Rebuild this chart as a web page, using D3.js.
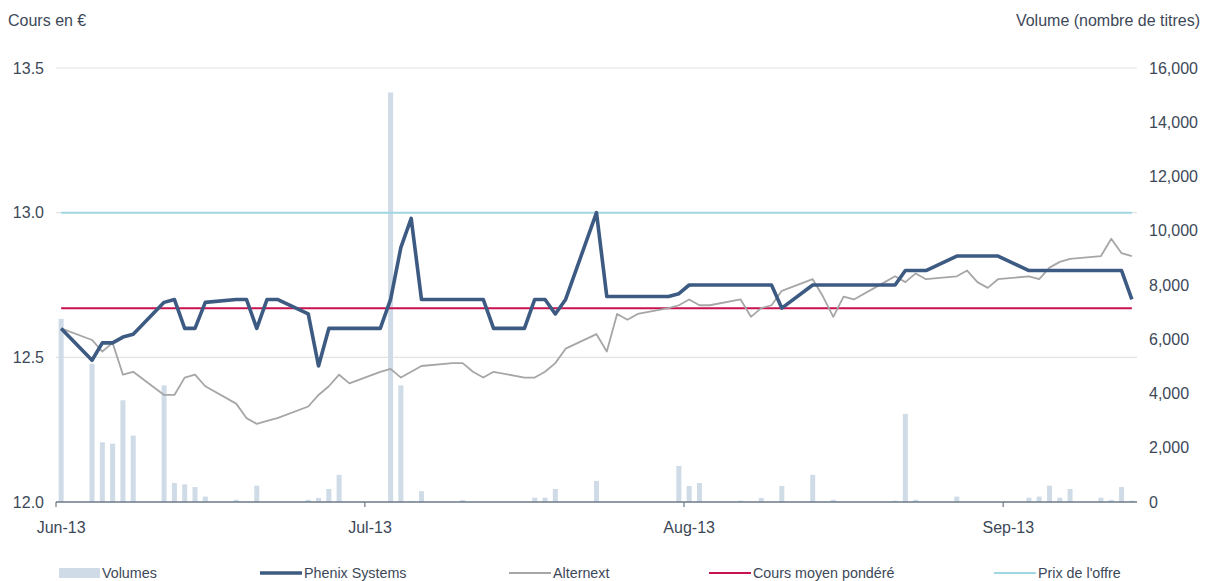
<!DOCTYPE html>
<html>
<head>
<meta charset="utf-8">
<script src="https://cdn.jsdelivr.net/npm/d3@7"></script>
<style>
  body { margin: 0; background: #fff; }
  text { font-family: "Liberation Sans", Arial, sans-serif; fill: #3c4858; }
</style>
</head>
<body>
<svg width="1208" height="581"></svg>
<script>
// trading days, 2013 (mm-dd)
var days = [
  "05-31",
  "06-03","06-04","06-05","06-06","06-07","06-10","06-11","06-12","06-13","06-14",
  "06-17","06-18","06-19","06-20","06-21","06-24","06-25","06-26","06-27","06-28",
  "07-01","07-02","07-03","07-04","07-05","07-08","07-09","07-10","07-11","07-12",
  "07-15","07-16","07-17","07-18","07-19","07-22","07-23","07-24","07-25","07-26",
  "07-29","07-30","07-31","08-01","08-02","08-05","08-06","08-07","08-08","08-09",
  "08-12","08-13","08-14","08-15","08-16","08-19","08-20","08-21","08-22","08-23",
  "08-26","08-27","08-28","08-29","08-30","09-02","09-03","09-04","09-05","09-06",
  "09-09","09-10","09-11","09-12"
];
var phenix = [
  12.60,
  12.49,12.55,12.55,12.57,12.58,12.69,12.70,12.60,12.60,12.69,
  12.70,12.70,12.60,12.70,12.70,12.65,12.47,12.60,12.60,12.60,
  12.60,12.70,12.88,12.98,12.70,12.70,12.70,12.70,12.70,12.60,
  12.60,12.70,12.70,12.65,12.70,13.00,12.71,12.71,12.71,12.71,
  12.71,12.72,12.75,12.75,12.75,12.75,12.75,12.75,12.75,12.67,
  12.75,12.75,12.75,12.75,12.75,12.75,12.75,12.80,12.80,12.80,
  12.85,12.85,12.85,12.85,12.85,12.80,12.80,12.80,12.80,12.80,
  12.80,12.80,12.80,12.70
];
var alternext = [
  12.60,
  12.56,12.52,12.55,12.44,12.45,12.37,12.37,12.43,12.44,12.40,
  12.34,12.29,12.27,12.28,12.29,12.33,12.37,12.40,12.44,12.41,
  12.45,12.46,12.43,12.45,12.47,12.48,12.48,12.45,12.43,12.45,
  12.43,12.43,12.45,12.48,12.53,12.58,12.52,12.65,12.63,12.65,
  12.67,12.68,12.70,12.68,12.68,12.70,12.64,12.67,12.68,12.73,
  12.77,12.71,12.64,12.71,12.70,12.76,12.78,12.76,12.79,12.77,
  12.78,12.80,12.76,12.74,12.77,12.78,12.77,12.81,12.83,12.84,
  12.85,12.91,12.86,12.85
];
var volumes = [
  6750,
  5100,2200,2150,3750,2450,4300,700,650,550,200,
  80,0,600,0,0,80,150,480,1000,0,
  0,15100,4300,30,400,0,70,0,0,0,
  0,160,160,480,0,780,0,0,0,0,
  0,1330,590,700,0,50,0,150,0,590,
  1000,0,80,0,0,0,50,3250,80,0,
  200,0,0,0,0,160,200,600,160,480,
  160,80,550,50
];
var avgPrice = 12.67;
var offerPrice = 13.0;
var priceTicks = [12.0, 12.5, 13.0, 13.5];
var volumeTicks = [0, 2000, 4000, 6000, 8000, 10000, 12000, 14000, 16000];
var monthTickDays = ["05-31", "06-30", "07-31", "08-31"];
var monthLabels = ["Jun-13", "Jul-13", "Aug-13", "Sep-13"];
var legendNames = ["Volumes", "Phenix Systems", "Alternext", "Cours moyen pondéré", "Prix de l'offre"];

var parse = function(s){ return d3.timeParse("%Y-%m-%d")("2013-" + s); };
var halfDay = 12 * 3600 * 1000;
var dateList = days.map(parse);

var svg = d3.select("svg");
var plotL = 56, plotR = 1137, plotT = 68, plotB = 502;

var x = d3.scaleTime()
  .domain([new Date(+dateList[0] - halfDay), new Date(+dateList[dateList.length - 1] + halfDay)])
  .range([plotL, plotR]);
var yP = d3.scaleLinear().domain([12, 13.5]).range([plotB, plotT]);
var yV = d3.scaleLinear().domain([0, 16000]).range([plotB, plotT]);

// gridlines
svg.append("g").selectAll("line")
  .data(priceTicks.slice(1))
  .enter().append("line")
  .attr("x1", plotL).attr("x2", plotR)
  .attr("y1", function(d){ return yP(d); })
  .attr("y2", function(d){ return yP(d); })
  .style("stroke", "#e3e3e3").style("stroke-width", 1.2);

// volume bars
svg.append("g").selectAll("rect")
  .data(volumes)
  .enter().append("rect")
  .attr("x", function(d, i){ return x(dateList[i]) - 2.5; })
  .attr("width", 5)
  .attr("y", function(d){ return yV(d); })
  .attr("height", function(d){ return plotB - yV(d); })
  .style("fill", "#cfdbe6");

// price lines
var priceLine = d3.line()
  .x(function(d, i){ return x(dateList[i]); })
  .y(function(d){ return yP(d); });

svg.append("path")
  .datum(dateList.map(function(){ return offerPrice; }))
  .attr("d", priceLine)
  .style("fill", "none").style("stroke", "#9fd8e2").style("stroke-width", 2);

svg.append("path")
  .datum(dateList.map(function(){ return avgPrice; }))
  .attr("d", priceLine)
  .style("fill", "none").style("stroke", "#c8124f").style("stroke-width", 2);

svg.append("path")
  .datum(alternext)
  .attr("d", priceLine)
  .style("fill", "none").style("stroke", "#a6a6a6").style("stroke-width", 1.8)
  .style("stroke-linejoin", "round");

svg.append("path")
  .datum(phenix)
  .attr("d", priceLine)
  .style("fill", "none").style("stroke", "#3d5b82").style("stroke-width", 3.6)
  .style("stroke-linejoin", "round");

// x axis
var tickDates = monthTickDays.map(function(s){ return new Date(+parse(s) - halfDay); });
var xAxis = svg.append("g");
xAxis.append("line")
  .attr("x1", plotL).attr("x2", plotR).attr("y1", plotB).attr("y2", plotB)
  .style("stroke", "#6b7886").style("stroke-width", 1.5);
xAxis.selectAll(".tk")
  .data(tickDates)
  .enter().append("line")
  .attr("x1", function(d){ return x(d); }).attr("x2", function(d){ return x(d); })
  .attr("y1", plotB).attr("y2", plotB + 5)
  .style("stroke", "#6b7886").style("stroke-width", 1.2);
xAxis.selectAll("text")
  .data(tickDates)
  .enter().append("text")
  .attr("x", function(d){ return x(new Date(+d + halfDay)); })
  .attr("y", 533)
  .attr("text-anchor", "middle")
  .style("font-size", "16px")
  .text(function(d, i){ return monthLabels[i]; });

// left axis labels
svg.append("g").selectAll("text")
  .data(priceTicks)
  .enter().append("text")
  .attr("x", 44)
  .attr("y", function(d){ return yP(d); })
  .attr("dy", "0.35em")
  .attr("text-anchor", "end")
  .style("font-size", "16px")
  .text(function(d){ return d3.format(".1f")(d); });

// right axis labels
svg.append("g").selectAll("text")
  .data(volumeTicks)
  .enter().append("text")
  .attr("x", 1149)
  .attr("y", function(d){ return yV(d); })
  .attr("dy", "0.35em")
  .style("font-size", "16px")
  .text(function(d){ return d3.format(",")(d); });

// axis titles
svg.append("text").attr("x", 8).attr("y", 26).style("font-size", "16px").text("Cours en €");
svg.append("text").attr("x", 1200).attr("y", 26).attr("text-anchor", "end")
  .style("font-size", "16px").text("Volume (nombre de titres)");

// legend
var legX = [59, 260, 509, 709, 994];
var legColors = ["#cfdbe6", "#3d5b82", "#a6a6a6", "#c8124f", "#9fd8e2"];
var legWidths = [0, 3.6, 1.8, 2, 2];
var leg = svg.append("g").selectAll("g")
  .data(legendNames)
  .enter().append("g")
  .attr("transform", function(d, i){ return "translate(" + legX[i] + ",573)"; });
leg.each(function(d, i){
  var g = d3.select(this);
  if (i === 0) {
    g.append("rect").attr("x", 0).attr("y", -5).attr("width", 41).attr("height", 10).style("fill", legColors[i]);
  } else {
    g.append("line").attr("x1", 0).attr("x2", 42).attr("y1", 0).attr("y2", 0)
      .style("stroke", legColors[i]).style("stroke-width", legWidths[i]);
  }
  g.append("text").attr("x", i === 0 ? 43 : 44).attr("y", 5)
    .style("font-size", "14.3px").text(d);
});
</script>
</body>
</html>
